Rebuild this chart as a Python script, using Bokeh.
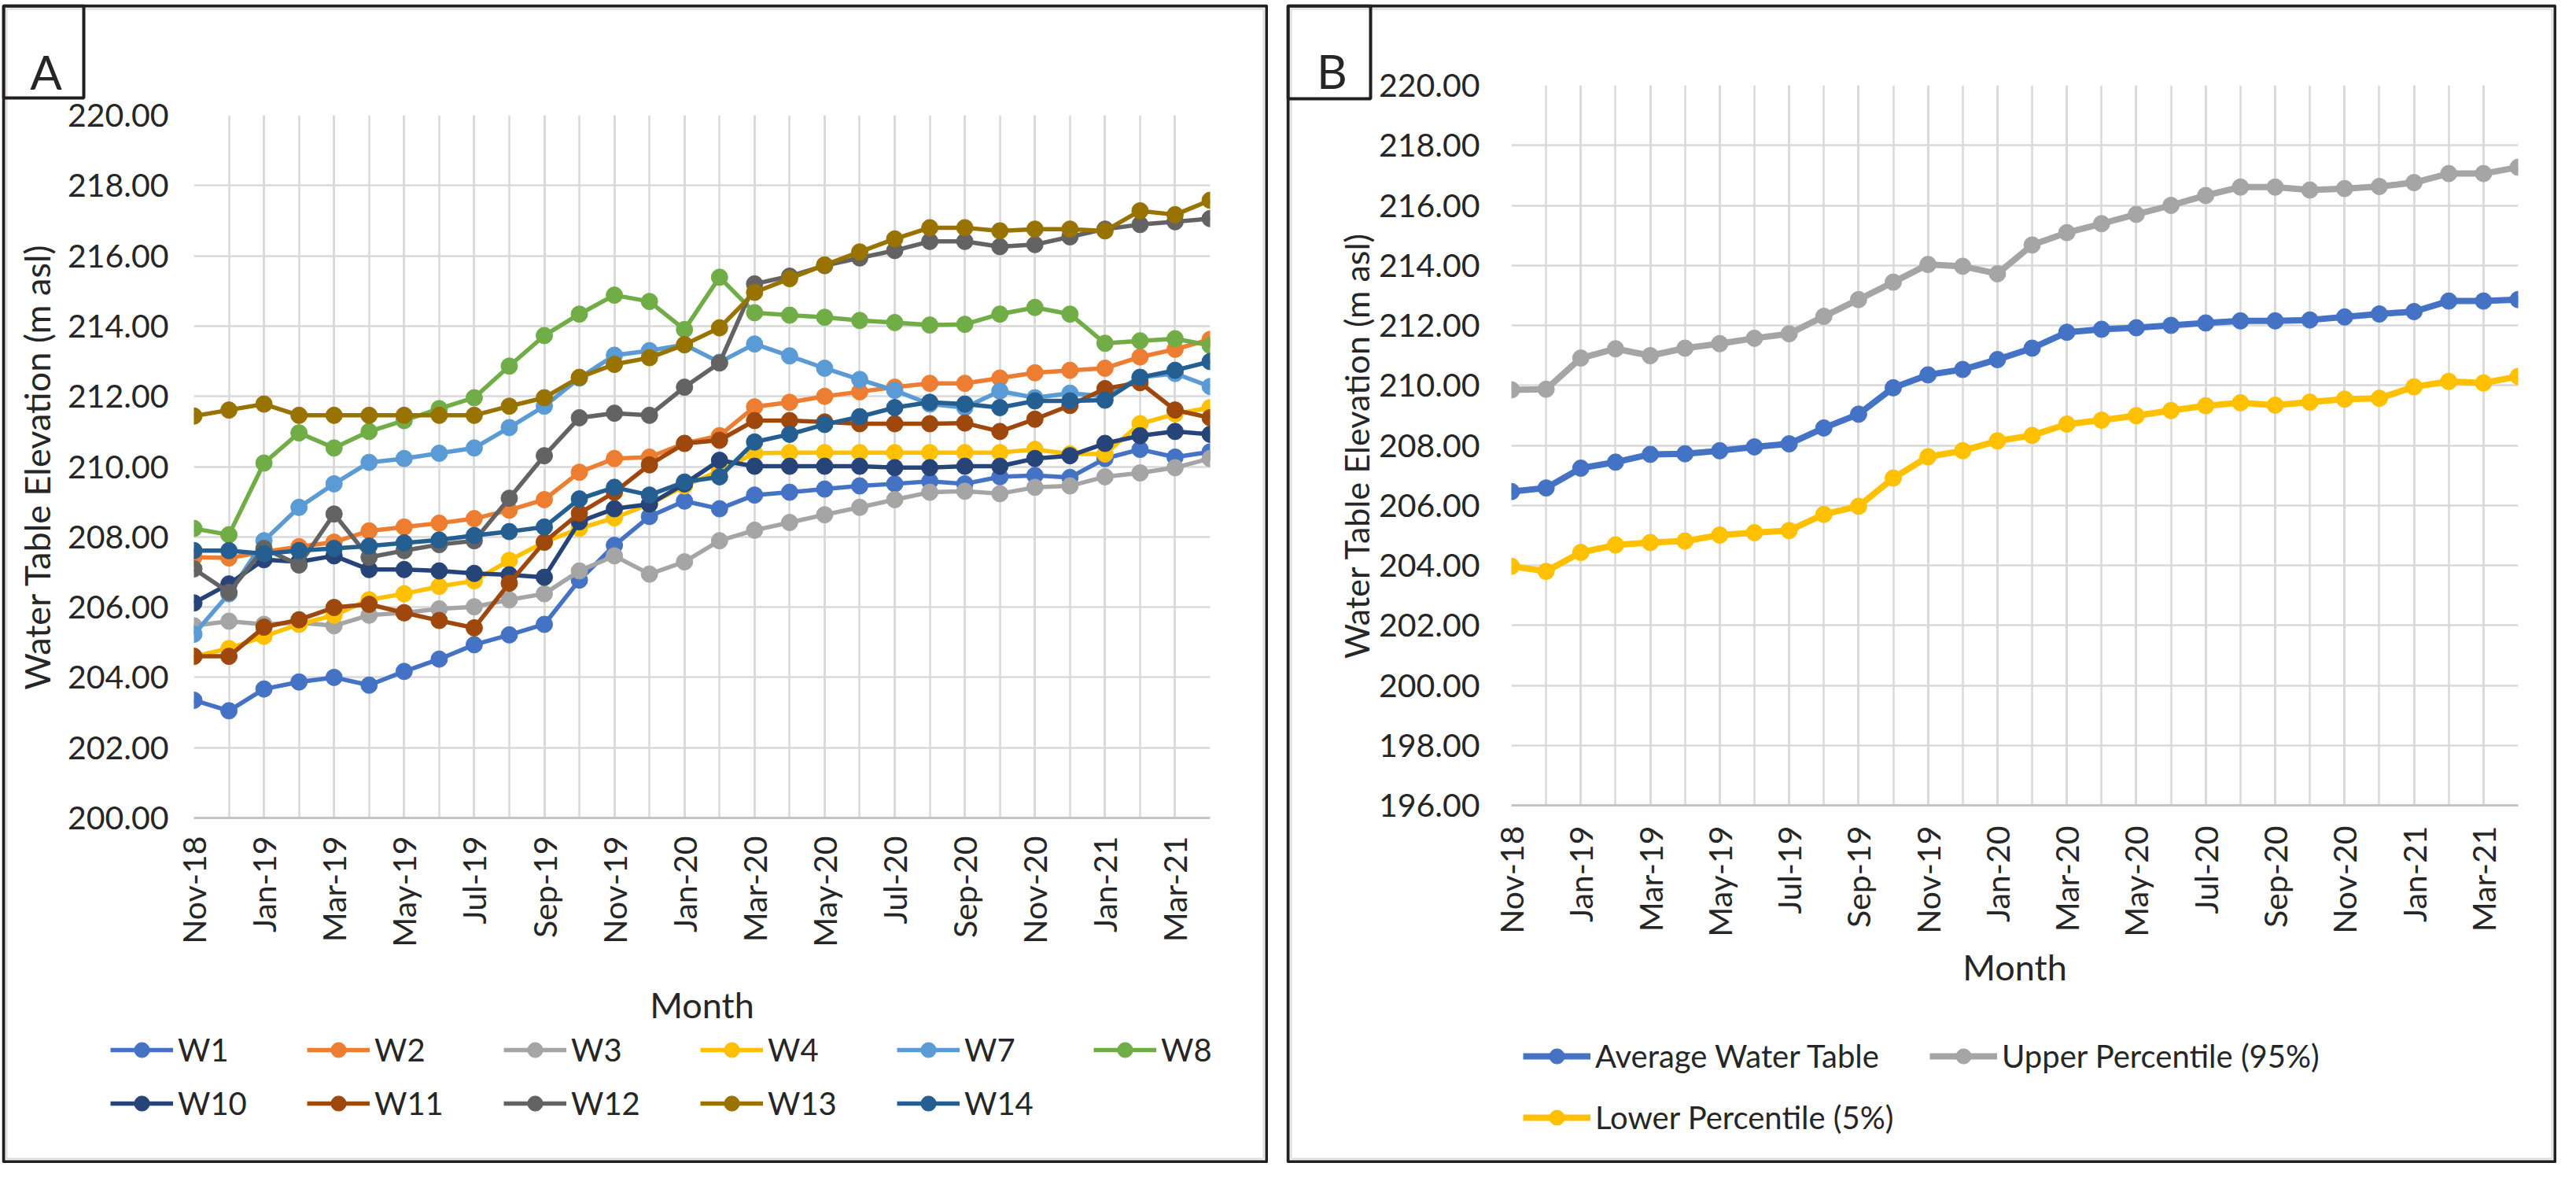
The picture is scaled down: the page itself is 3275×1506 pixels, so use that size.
import math
from bokeh.plotting import figure
from bokeh.models import (Range1d, FixedTicker, Legend, LegendItem, PrintfTickFormatter,
                          BoxAnnotation, Label, GridBox)
from bokeh.embed import file_html
from bokeh.resources import INLINE

# ---------------- data ----------------
months = ["Nov-18", "Dec-18", "Jan-19", "Feb-19", "Mar-19", "Apr-19", "May-19", "Jun-19",
          "Jul-19", "Aug-19", "Sep-19", "Oct-19", "Nov-19", "Dec-19", "Jan-20", "Feb-20",
          "Mar-20", "Apr-20", "May-20", "Jun-20", "Jul-20", "Aug-20", "Sep-20", "Oct-20",
          "Nov-20", "Dec-20", "Jan-21", "Feb-21", "Mar-21", "Apr-21"]

W1 = [203.35, 203.05, 203.67, 203.87, 204.00, 203.78, 204.17, 204.52, 204.93, 205.21,
      205.51, 206.77, 207.76, 208.58, 209.02, 208.80, 209.19, 209.27, 209.36, 209.45,
      209.51, 209.58, 209.51, 209.71, 209.75, 209.69, 210.23, 210.49, 210.27, 210.42]
W2 = [207.42, 207.40, 207.57, 207.72, 207.85, 208.17, 208.28, 208.39, 208.52, 208.76,
      209.06, 209.84, 210.23, 210.27, 210.66, 210.88, 211.70, 211.83, 212.00, 212.13,
      212.26, 212.37, 212.37, 212.52, 212.67, 212.74, 212.80, 213.12, 213.34, 213.62]
W3 = [205.47, 205.60, 205.51, 205.56, 205.47, 205.77, 205.84, 205.95, 206.01, 206.21,
      206.38, 207.03, 207.46, 206.94, 207.29, 207.89, 208.19, 208.41, 208.63, 208.84,
      209.06, 209.27, 209.30, 209.23, 209.41, 209.45, 209.71, 209.82, 209.97, 210.23]
W4 = [204.60, 204.82, 205.17, 205.51, 205.77, 206.21, 206.38, 206.59, 206.75, 207.33,
      207.85, 208.24, 208.54, 208.93, 209.45, 209.88, 210.38, 210.40, 210.40, 210.40,
      210.40, 210.40, 210.40, 210.40, 210.49, 210.36, 210.36, 211.22, 211.50, 211.68]
W7 = [205.23, 206.38, 207.89, 208.84, 209.51, 210.12, 210.23, 210.38, 210.53, 211.11,
      211.72, 212.52, 213.17, 213.30, 213.47, 212.97, 213.49, 213.15, 212.80, 212.48,
      212.17, 211.78, 211.68, 212.15, 211.96, 212.09, 212.00, 212.54, 212.65, 212.28]
W8 = [208.24, 208.06, 210.10, 210.96, 210.53, 211.00, 211.31, 211.65, 211.96, 212.86,
      213.73, 214.34, 214.88, 214.70, 213.90, 215.39, 214.38, 214.31, 214.25, 214.16,
      214.10, 214.03, 214.05, 214.34, 214.53, 214.34, 213.51, 213.58, 213.64, 213.45]
W10 = [206.12, 206.66, 207.35, 207.29, 207.46, 207.07, 207.07, 207.03, 206.96, 206.92,
       206.85, 208.43, 208.80, 208.93, 209.51, 210.18, 210.01, 210.01, 210.01, 210.01,
       209.97, 209.97, 210.01, 210.01, 210.23, 210.31, 210.66, 210.88, 211.00, 210.92]
W11 = [204.60, 204.60, 205.43, 205.64, 205.99, 206.08, 205.84, 205.62, 205.41, 206.68,
       207.85, 208.67, 209.27, 210.05, 210.66, 210.75, 211.31, 211.31, 211.27, 211.22,
       211.22, 211.22, 211.24, 211.00, 211.35, 211.74, 212.22, 212.39, 211.61, 211.39]
W12 = [207.09, 206.42, 207.67, 207.20, 208.65, 207.42, 207.61, 207.78, 207.89, 209.10,
       210.31, 211.39, 211.52, 211.46, 212.26, 212.95, 215.20, 215.42, 215.72, 215.94,
       216.15, 216.41, 216.41, 216.26, 216.32, 216.54, 216.76, 216.89, 216.97, 217.06]
W13 = [211.44, 211.61, 211.78, 211.46, 211.46, 211.46, 211.46, 211.46, 211.46, 211.72,
       211.96, 212.54, 212.91, 213.10, 213.47, 213.95, 214.96, 215.35, 215.74, 216.11,
       216.48, 216.80, 216.80, 216.71, 216.76, 216.76, 216.71, 217.28, 217.17, 217.58]
W14 = [207.61, 207.61, 207.52, 207.61, 207.67, 207.74, 207.83, 207.91, 208.04, 208.15,
       208.28, 209.08, 209.41, 209.19, 209.56, 209.71, 210.70, 210.92, 211.20, 211.42,
       211.68, 211.83, 211.78, 211.68, 211.87, 211.87, 211.89, 212.54, 212.74, 212.99]

wells = ["W1", "W2", "W3", "W4", "W7", "W8", "W10", "W11", "W12", "W13", "W14"]
well_values = [W1, W2, W3, W4, W7, W8, W10, W11, W12, W13, W14]
well_colors = ["#4472C4", "#ED7D31", "#A5A5A5", "#FFC000", "#5B9BD5", "#70AD47",
               "#264478", "#9E480E", "#636363", "#997300", "#255E91"]

average = [206.46, 206.58, 207.24, 207.44, 207.70, 207.72, 207.82, 207.95, 208.05, 208.58,
           209.04, 209.92, 210.35, 210.53, 210.86, 211.24, 211.77, 211.87, 211.92, 212.00,
           212.08, 212.15, 212.15, 212.18, 212.28, 212.38, 212.46, 212.81, 212.81, 212.86]
upper95 = [209.85, 209.87, 210.91, 211.22, 210.99, 211.24, 211.39, 211.57, 211.72, 212.30,
           212.86, 213.44, 214.03, 213.97, 213.72, 214.68, 215.09, 215.39, 215.70, 216.00,
           216.33, 216.61, 216.61, 216.51, 216.56, 216.63, 216.76, 217.06, 217.06, 217.27]
lower5 = [203.97, 203.80, 204.43, 204.68, 204.76, 204.81, 205.01, 205.09, 205.16, 205.70,
          205.97, 206.91, 207.62, 207.82, 208.15, 208.33, 208.71, 208.84, 208.99, 209.16,
          209.32, 209.42, 209.34, 209.44, 209.54, 209.57, 209.95, 210.13, 210.08, 210.30]
stat_names = ["Average Water Table", "Upper Percentile (95%)", "Lower Percentile (5%)"]
stat_values = [average, upper95, lower5]
stat_colors = ["#4472C4", "#A5A5A5", "#FFC000"]

y_ticks_a = [200, 202, 204, 206, 208, 210, 212, 214, 216, 218, 220]
y_ticks_b = [196, 198, 200, 202, 204, 206, 208, 210, 212, 214, 216, 218, 220]

# ---------------- style ----------------
FONT = "Lato"
TXT = "#262626"
GRID = "#D9D9D9"
EDGE = "#231F20"
TICK_SIZE = "41px"
x_idx = list(range(len(months)))
label_ticks = x_idx[::2]


def no_align(p):
    if "frame_align" in p.properties():
        p.frame_align = False


def style(p, yticks, ystand, ylab_stand, ylab_size, xstand, xlab_stand):
    no_align(p)
    p.outline_line_color = None
    p.background_fill_color = "white"
    p.border_fill_color = "white"
    xa = p.xaxis[0]
    xa.ticker = FixedTicker(ticks=label_ticks, minor_ticks=x_idx)
    xa.major_label_overrides = {i: months[i] for i in label_ticks}
    xa.major_label_orientation = math.pi / 2
    xa.axis_line_color = "#C4C4C4"
    xa.axis_line_width = 3
    xa.major_tick_line_color = None
    xa.minor_tick_line_color = None
    xa.major_tick_out = 0
    xa.major_tick_in = 0
    xa.minor_tick_out = 0
    xa.minor_tick_in = 0
    xa.major_label_standoff = xstand
    xa.major_label_text_font = FONT
    xa.major_label_text_font_size = TICK_SIZE
    xa.major_label_text_color = TXT
    xa.axis_label = "Month"
    xa.axis_label_standoff = xlab_stand
    xa.axis_label_text_font = FONT
    xa.axis_label_text_font_size = "45px"
    xa.axis_label_text_font_style = "normal"
    xa.axis_label_text_color = TXT

    ya = p.yaxis[0]
    ya.ticker = FixedTicker(ticks=yticks)
    ya.formatter = PrintfTickFormatter(format="%.2f")
    ya.axis_line_color = None
    ya.major_tick_line_color = None
    ya.minor_tick_line_color = None
    ya.major_tick_out = 0
    ya.major_tick_in = 0
    ya.minor_tick_out = 0
    ya.minor_tick_in = 0
    ya.major_label_standoff = ystand
    ya.major_label_text_font = FONT
    ya.major_label_text_font_size = TICK_SIZE
    ya.major_label_text_color = TXT
    ya.axis_label = "Water Table Elevation (m asl)"
    ya.axis_label_standoff = ylab_stand
    ya.axis_label_text_font = FONT
    ya.axis_label_text_font_size = ylab_size
    ya.axis_label_text_font_style = "normal"
    ya.axis_label_text_color = TXT

    p.xgrid.grid_line_color = GRID
    p.xgrid.grid_line_width = 2.5
    p.xgrid.minor_grid_line_color = GRID
    p.xgrid.minor_grid_line_width = 2.5
    p.ygrid.grid_line_color = GRID
    p.ygrid.grid_line_width = 2.5


def make_overlay(w, h, margin):
    o = figure(width=w, height=h, x_range=Range1d(0, w), y_range=Range1d(h, 0),
               output_backend="svg", toolbar_location=None, title=None,
               x_axis_location=None, y_axis_location=None, min_border=0)
    no_align(o)
    o.margin = margin
    o.outline_line_color = None
    o.background_fill_color = None
    o.border_fill_color = None
    o.grid.visible = False
    return o


def make_legend(items, loc, glyph_w, label_w, spacing):
    return Legend(items=items, orientation="horizontal", location=loc,
                  glyph_width=glyph_w, glyph_height=48, label_height=48,
                  label_width=label_w, label_standoff=6, spacing=spacing,
                  padding=0, margin=0, border_line_color=None, background_fill_alpha=0,
                  label_text_font=FONT, label_text_font_size="40px",
                  label_text_color=TXT, click_policy="none")


def frame_box(left, right, top, bottom, color, width):
    return BoxAnnotation(left=left, right=right, top=top, bottom=bottom,
                         fill_alpha=0, line_color=color, line_alpha=1,
                         line_width=width)


def decorate(o, w, h, letter, box_w, box_h, lx, ly):
    o.add_layout(frame_box(6, w - 6, 6, h - 6, "#DCDCDC", 2))
    o.add_layout(frame_box(2, w - 2, 2, h - 2, EDGE, 4))
    o.add_layout(frame_box(2, box_w - 2, 2, box_h - 2, EDGE, 4))
    o.add_layout(Label(x=lx, y=ly, text=letter, text_align="center",
                       text_baseline="alphabetic", text_font=FONT,
                       text_font_size="60px", text_color=TXT))


def legend_items(o, names, series, colors, lw, ms):
    # hidden copies of the series, used only to draw the legend glyphs
    items = []
    for name, vals, col in zip(names, series, colors):
        rl = o.line(x_idx, vals, line_color=col, line_width=lw, visible=False)
        rs = o.scatter(x_idx, vals, marker="circle", size=ms, fill_color=col,
                       line_color=col, visible=False)
        items.append(LegendItem(label=name, renderers=[rl, rs]))
    return items


# ---------------- panel A ----------------
WA, HA = 1610, 1473
pA = figure(width=WA, height=HA, x_range=Range1d(0, 29), y_range=Range1d(200, 220),
            output_backend="svg", toolbar_location=None,
            min_border_left=244, min_border_right=74, min_border_top=141,
            min_border_bottom=439)
pA.margin = (5, 0, 0, 2)
style(pA, y_ticks_a, 32, 9, "45px", 23, 43)

for name, vals, col in zip(wells, well_values, well_colors):
    pA.line(x_idx, vals, line_color=col, line_width=5.5)
    pA.scatter(x_idx, vals, marker="circle", size=21, fill_color=col, line_color=col)

oA = make_overlay(WA, HA, (5, 0, 0, 2))
items_a = legend_items(oA, wells, well_values, well_colors, 5.5, 21)
oA.add_layout(make_legend(items_a[:6], (138, 120), 80, 150, 14))
oA.add_layout(make_legend(items_a[6:], (138, 52), 80, 150, 14))
decorate(oA, WA, HA, "A", 106, 121, 56, 85)

# ---------------- panel B ----------------
WB, HB = 1615, 1473
pB = figure(width=WB, height=HB, x_range=Range1d(0, 29), y_range=Range1d(196, 220),
            output_backend="svg", toolbar_location=None,
            min_border_left=286, min_border_right=49, min_border_top=103,
            min_border_bottom=455)
pB.margin = (5, 0, 0, 23)
style(pB, y_ticks_b, 40, 0, "43px", 26, 8)

for name, vals, col in zip(stat_names, stat_values, stat_colors):
    pB.line(x_idx, vals, line_color=col, line_width=8)
    pB.scatter(x_idx, vals, marker="circle", size=21, fill_color=col, line_color=col)

oB = make_overlay(WB, HB, (5, 0, 0, 23))
items_b = legend_items(oB, stat_names, stat_values, stat_colors, 8, 21)
oB.add_layout(make_legend(items_b[:2], (301, 112), 86, 405, 20))
oB.add_layout(make_legend(items_b[2:], (301, 34), 86, 405, 20))
decorate(oB, WB, HB, "B", 109, 122, 58, 84)

layout = GridBox(children=[(pA, 0, 0), (oA, 0, 0), (pB, 0, 1), (oB, 0, 1)])
open("out.html", "w").write(file_html(layout, INLINE))
